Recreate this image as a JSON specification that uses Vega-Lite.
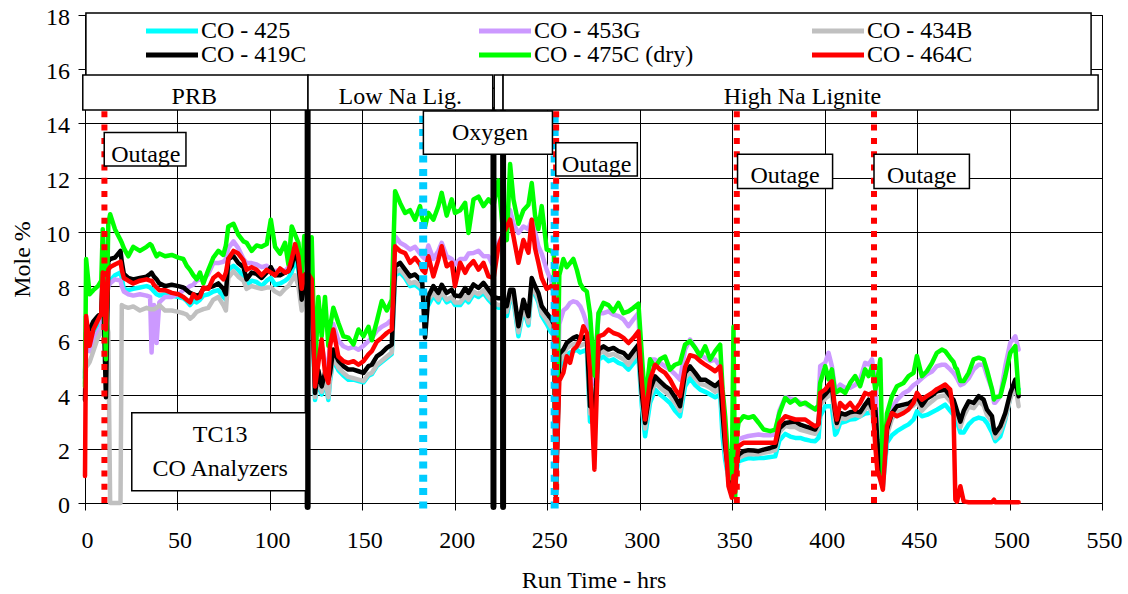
{
"$schema": "https://vega.github.io/schema/vega-lite/v6.json",
"width": 1017, "height": 488,
"autosize": {"type": "none"},
"padding": {"left": 85, "top": 15, "right": 26, "bottom": 91},
"background": "white",
"datasets": {
"co": [
{"t":0,"a":4.6,"b":4.8,"c":4.4,"d":3.8,"e":4.3,"f":1.0},
{"t":0.6,"a":6.4,"b":6.0,"c":5.0,"d":6.3,"e":9.0,"f":6.9},
{"t":2.5,"a":6.0,"b":5.6,"c":5.2,"d":6.4,"e":7.7,"f":5.8},
{"t":4.5,"a":6.3,"b":6.0,"c":5.6,"d":6.7,"e":7.85,"f":6.4},
{"t":7,"a":6.6,"b":6.3,"c":6.1,"d":6.9,"e":8.0,"f":6.75},
{"t":8.8,"a":6.8,"b":6.5,"c":6.3,"d":7.0,"e":8.2,"f":7.0},
{"t":9.6,"a":8.0,"b":7.6,"c":6.5,"d":8.6,"e":10.1,"f":8.5},
{"t":11.3,"a":7.6,"b":7.4,"c":6.8,"d":3.9,"e":5.3,"f":6.4},
{"t":12.6,"a":8.2,"b":8.0,"c":6.3,"d":8.9,"e":10.3,"f":8.6},
{"t":13.6,"a":8.2,"b":8.1,"c":0,"d":9.0,"e":10.65,"f":8.7},
{"t":16.2,"a":8.4,"b":8.25,"c":0,"d":9.05,"e":10.1,"f":8.8},
{"t":19.2,"a":8.5,"b":8.2,"c":0,"d":9.3,"e":9.7,"f":8.9},
{"t":19.9,"a":8.3,"b":8.0,"c":7.3,"d":8.9,"e":9.6,"f":8.6},
{"t":21,"a":7.9,"b":7.8,"c":7.25,"d":8.45,"e":9.4,"f":8.3},
{"t":23.4,"a":7.85,"b":7.7,"c":7.2,"d":8.3,"e":9.1,"f":8.2},
{"t":26.1,"a":7.9,"b":7.65,"c":7.25,"d":8.25,"e":9.45,"f":8.1},
{"t":29.7,"a":7.95,"b":7.7,"c":7.1,"d":8.3,"e":9.3,"f":8.2},
{"t":33.3,"a":8.0,"b":7.65,"c":7.2,"d":8.35,"e":9.45,"f":8.25},
{"t":35.2,"a":7.95,"b":7.6,"c":7.15,"d":8.45,"e":9.55,"f":8.2},
{"t":36,"a":7.9,"b":5.55,"c":7.15,"d":8.5,"e":9.5,"f":8.2},
{"t":37.3,"a":7.8,"b":7.3,"c":7.15,"d":8.35,"e":9.3,"f":8.05},
{"t":38.7,"a":7.7,"b":5.9,"c":7.2,"d":8.25,"e":9.1,"f":7.95},
{"t":40.2,"a":7.65,"b":7.4,"c":7.3,"d":8.1,"e":9.2,"f":7.85},
{"t":43.3,"a":7.7,"b":7.6,"c":7.1,"d":8.0,"e":9.1,"f":7.85},
{"t":46.9,"a":7.65,"b":7.6,"c":7.1,"d":8.05,"e":9.15,"f":7.75},
{"t":50.5,"a":7.6,"b":7.7,"c":7.05,"d":8.0,"e":9.05,"f":7.7},
{"t":53.2,"a":7.55,"b":7.85,"c":7.0,"d":7.95,"e":9.0,"f":7.6},
{"t":55,"a":7.45,"b":7.9,"c":6.95,"d":7.85,"e":8.75,"f":7.5},
{"t":56.8,"a":7.3,"b":8.0,"c":6.8,"d":7.75,"e":8.6,"f":7.4},
{"t":58.6,"a":7.45,"b":8.05,"c":6.9,"d":7.7,"e":8.4,"f":7.7},
{"t":60.4,"a":7.4,"b":8.2,"c":7.05,"d":7.65,"e":8.25,"f":7.55},
{"t":62.2,"a":7.5,"b":8.25,"c":7.1,"d":7.7,"e":8.5,"f":7.6},
{"t":64,"a":7.65,"b":8.25,"c":7.15,"d":7.9,"e":8.1,"f":7.95},
{"t":66.7,"a":7.7,"b":8.45,"c":7.2,"d":7.95,"e":8.6,"f":7.9},
{"t":69.4,"a":7.8,"b":8.85,"c":7.5,"d":8.0,"e":9.05,"f":8.3},
{"t":72.1,"a":7.85,"b":8.85,"c":7.6,"d":8.1,"e":9.3,"f":8.45},
{"t":74.8,"a":7.6,"b":8.9,"c":7.3,"d":7.9,"e":9.15,"f":8.25},
{"t":76.2,"a":7.5,"b":9.0,"c":7.1,"d":7.7,"e":9.5,"f":8.5},
{"t":77.5,"a":8.6,"b":9.4,"c":8.3,"d":9.0,"e":10.2,"f":9.0},
{"t":80.3,"a":8.75,"b":9.65,"c":8.55,"d":9.1,"e":10.3,"f":9.3},
{"t":82.9,"a":8.6,"b":9.4,"c":8.35,"d":8.85,"e":9.9,"f":9.2},
{"t":85.7,"a":8.35,"b":9.0,"c":8.2,"d":8.7,"e":9.65,"f":8.95},
{"t":87.4,"a":8.0,"b":8.85,"c":7.9,"d":8.25,"e":9.6,"f":8.6},
{"t":90.1,"a":8.2,"b":8.85,"c":8.0,"d":8.5,"e":9.3,"f":8.7},
{"t":92.8,"a":8.15,"b":8.8,"c":7.95,"d":8.45,"e":9.5,"f":8.6},
{"t":95.5,"a":8.0,"b":8.7,"c":7.9,"d":8.3,"e":9.45,"f":8.4},
{"t":98.3,"a":8.2,"b":8.75,"c":7.95,"d":8.5,"e":9.55,"f":8.6},
{"t":100.5,"a":8.3,"b":8.6,"c":7.95,"d":8.7,"e":10.45,"f":8.5},
{"t":102.8,"a":8.05,"b":8.55,"c":7.8,"d":8.4,"e":9.45,"f":8.4},
{"t":105.5,"a":8.1,"b":8.6,"c":7.7,"d":8.4,"e":9.2,"f":8.65},
{"t":108.2,"a":8.2,"b":8.55,"c":7.9,"d":8.5,"e":9.6,"f":8.5},
{"t":110,"a":8.3,"b":8.7,"c":8.0,"d":8.55,"e":8.8,"f":8.55},
{"t":111.8,"a":8.5,"b":9.0,"c":8.2,"d":8.75,"e":10.2,"f":9.0},
{"t":113.6,"a":9.0,"b":9.5,"c":8.4,"d":9.3,"e":9.9,"f":9.55},
{"t":115.4,"a":8.6,"b":9.0,"c":8.0,"d":8.85,"e":9.6,"f":9.1},
{"t":117.2,"a":7.3,"b":7.75,"c":7.1,"d":7.5,"e":8.3,"f":7.9},
{"t":118.6,"a":7.8,"b":8.25,"c":7.6,"d":8.0,"e":9.85,"f":8.4},
{"t":120.2,"a":8.0,"b":8.4,"c":7.8,"d":8.2,"e":9.1,"f":8.5},
{"t":122.6,"a":7.8,"b":8.3,"c":7.6,"d":8.0,"e":9.8,"f":8.25},
{"t":124.4,"a":3.8,"b":4.5,"c":3.9,"d":4.06,"e":4.8,"f":4.3},
{"t":126.2,"a":4.6,"b":5.4,"c":4.7,"d":4.9,"e":7.6,"f":5.17},
{"t":128,"a":4.0,"b":5.8,"c":4.1,"d":4.3,"e":6.15,"f":6.03},
{"t":129.8,"a":4.5,"b":5.2,"c":4.6,"d":4.8,"e":7.6,"f":4.8},
{"t":131.6,"a":3.8,"b":4.9,"c":3.9,"d":4.55,"e":5.8,"f":4.43},
{"t":132.5,"a":4.5,"b":6.0,"c":4.6,"d":4.8,"e":6.5,"f":5.78},
{"t":134.3,"a":5.3,"b":6.6,"c":5.4,"d":5.66,"e":7.2,"f":6.4},
{"t":137,"a":4.9,"b":6.0,"c":5.0,"d":5.25,"e":6.65,"f":5.41},
{"t":139.7,"a":4.7,"b":5.78,"c":4.8,"d":5.05,"e":6.15,"f":5.23},
{"t":142.4,"a":4.55,"b":5.7,"c":4.65,"d":4.92,"e":6.1,"f":5.17},
{"t":145.2,"a":4.55,"b":5.75,"c":4.6,"d":4.92,"e":5.85,"f":5.23},
{"t":147.9,"a":4.5,"b":5.65,"c":4.55,"d":4.86,"e":6.4,"f":5.1},
{"t":150.6,"a":4.45,"b":5.8,"c":4.5,"d":4.8,"e":6.15,"f":5.23},
{"t":153.3,"a":4.7,"b":5.97,"c":4.75,"d":5.05,"e":6.5,"f":5.48},
{"t":155.1,"a":4.75,"b":6.1,"c":4.8,"d":5.1,"e":6.0,"f":5.6},
{"t":157.8,"a":5.05,"b":6.35,"c":5.1,"d":5.41,"e":6.7,"f":5.95},
{"t":160.5,"a":5.2,"b":6.5,"c":5.25,"d":5.54,"e":7.45,"f":6.1},
{"t":163.2,"a":5.35,"b":6.6,"c":5.4,"d":5.72,"e":7.1,"f":6.27},
{"t":165.9,"a":5.5,"b":6.77,"c":5.55,"d":5.84,"e":7.5,"f":6.4},
{"t":167.7,"a":8.4,"b":9.84,"c":8.5,"d":8.73,"e":11.5,"f":9.47},
{"t":170.4,"a":8.5,"b":9.6,"c":8.6,"d":8.86,"e":11.07,"f":9.29},
{"t":173.1,"a":8.3,"b":9.5,"c":8.4,"d":8.61,"e":10.7,"f":9.22},
{"t":175.8,"a":8.0,"b":9.35,"c":8.1,"d":8.36,"e":10.8,"f":8.86},
{"t":178.5,"a":8.05,"b":9.45,"c":8.15,"d":8.43,"e":10.45,"f":9.04},
{"t":181.2,"a":7.9,"b":9.2,"c":8.0,"d":8.24,"e":10.95,"f":8.8},
{"t":182.4,"a":7.8,"b":9.1,"c":7.9,"d":8.12,"e":10.5,"f":8.6},
{"t":183.9,"a":7.7,"b":9.0,"c":7.8,"d":6.1,"e":10.2,"f":8.49},
{"t":185.7,"a":7.3,"b":9.5,"c":7.5,"d":7.63,"e":10.7,"f":9.1},
{"t":188.4,"a":7.65,"b":9.0,"c":7.75,"d":8.0,"e":10.45,"f":8.36},
{"t":191.1,"a":7.4,"b":9.3,"c":7.5,"d":7.75,"e":10.95,"f":8.98},
{"t":192.9,"a":7.7,"b":9.6,"c":7.8,"d":8.05,"e":11.44,"f":9.47},
{"t":195.6,"a":7.4,"b":9.1,"c":7.5,"d":7.75,"e":10.6,"f":8.73},
{"t":198.3,"a":7.5,"b":9.0,"c":7.6,"d":7.87,"e":11.2,"f":8.86},
{"t":200.1,"a":7.3,"b":8.8,"c":7.4,"d":7.65,"e":10.7,"f":8.0},
{"t":202.9,"a":7.3,"b":9.0,"c":7.4,"d":7.63,"e":10.8,"f":8.86},
{"t":205.6,"a":7.55,"b":9.0,"c":7.65,"d":7.93,"e":11.07,"f":8.49},
{"t":207.4,"a":7.4,"b":9.2,"c":7.5,"d":7.75,"e":9.96,"f":8.73},
{"t":210.1,"a":7.7,"b":9.22,"c":7.8,"d":8.06,"e":11.2,"f":8.92},
{"t":212.8,"a":7.6,"b":9.3,"c":7.7,"d":7.93,"e":11.3,"f":8.61},
{"t":215.5,"a":7.75,"b":9.1,"c":7.85,"d":8.12,"e":10.95,"f":8.86},
{"t":218.2,"a":7.5,"b":9.1,"c":7.6,"d":7.87,"e":11.2,"f":8.36},
{"t":221,"a":7.3,"b":8.7,"c":7.4,"d":7.6,"e":11.0,"f":8.3},
{"t":223.6,"a":7.2,"b":9.6,"c":7.3,"d":7.55,"e":11.9,"f":9.47},
{"t":226.2,"a":7.2,"b":9.9,"c":7.3,"d":7.55,"e":9.9,"f":9.96},
{"t":228.1,"a":6.9,"b":10.7,"c":7.05,"d":7.26,"e":9.7,"f":10.2},
{"t":229.9,"a":7.5,"b":10.8,"c":7.6,"d":7.87,"e":12.5,"f":10.45},
{"t":231.7,"a":7.5,"b":10.3,"c":7.6,"d":7.87,"e":11.2,"f":9.84},
{"t":234.4,"a":6.15,"b":9.96,"c":6.3,"d":6.52,"e":10.3,"f":8.86},
{"t":237.1,"a":7.15,"b":10.2,"c":7.25,"d":7.5,"e":10.8,"f":9.7},
{"t":239.8,"a":6.55,"b":10.1,"c":6.65,"d":6.89,"e":11.0,"f":9.23},
{"t":241.6,"a":7.9,"b":10.45,"c":8.0,"d":8.3,"e":11.8,"f":10.45},
{"t":243.4,"a":7.7,"b":10.0,"c":7.8,"d":8.0,"e":10.6,"f":9.4},
{"t":245.2,"a":7.4,"b":9.47,"c":7.5,"d":7.75,"e":10.1,"f":8.86},
{"t":247,"a":6.9,"b":9.2,"c":7.0,"d":7.26,"e":10.95,"f":8.3},
{"t":249.7,"a":6.6,"b":8.6,"c":6.75,"d":7.0,"e":9.35,"f":7.9},
{"t":252,"a":6.3,"b":8.2,"c":6.5,"d":6.8,"e":9.3,"f":8.0},
{"t":253.6,"a":6.2,"b":7.8,"c":6.3,"d":6.6,"e":9.2,"f":7.8},
{"t":254.6,"a":0.2,"b":0.3,"c":0.2,"d":0.3,"e":0.4,"f":0.3},
{"t":256.5,"a":5.0,"b":6.6,"c":5.2,"d":5.5,"e":8.4,"f":4.5},
{"t":258.7,"a":5.2,"b":7.1,"c":5.45,"d":5.66,"e":9.0,"f":4.8},
{"t":260.5,"a":5.45,"b":7.2,"c":5.7,"d":5.9,"e":8.7,"f":5.41},
{"t":262.3,"a":5.55,"b":7.38,"c":5.8,"d":6.0,"e":8.85,"f":5.17},
{"t":264.1,"a":5.6,"b":7.44,"c":5.85,"d":6.09,"e":9.0,"f":5.66},
{"t":266,"a":5.65,"b":7.4,"c":5.9,"d":6.15,"e":8.6,"f":5.78},
{"t":267.8,"a":5.55,"b":7.26,"c":5.8,"d":6.03,"e":8.1,"f":6.03},
{"t":269.5,"a":5.6,"b":7.0,"c":5.85,"d":6.1,"e":7.9,"f":6.52},
{"t":271.4,"a":5.65,"b":6.6,"c":5.9,"d":6.15,"e":7.8,"f":6.27},
{"t":273.1,"a":3.0,"b":5.8,"c":3.3,"d":3.57,"e":7.0,"f":4.9},
{"t":275.5,"a":3.2,"b":4.4,"c":3.4,"d":3.5,"e":4.7,"f":1.23},
{"t":277.7,"a":5.29,"b":7.0,"c":5.5,"d":5.66,"e":7.0,"f":6.15},
{"t":280.4,"a":5.4,"b":7.0,"c":5.6,"d":5.78,"e":7.38,"f":6.21},
{"t":283.1,"a":5.23,"b":7.07,"c":5.45,"d":5.66,"e":7.3,"f":6.4},
{"t":285.8,"a":5.3,"b":6.95,"c":5.5,"d":5.72,"e":7.07,"f":6.27},
{"t":288.5,"a":5.17,"b":6.89,"c":5.4,"d":5.6,"e":7.38,"f":6.21},
{"t":291.2,"a":5.1,"b":6.77,"c":5.3,"d":5.54,"e":7.0,"f":6.09},
{"t":293.9,"a":4.92,"b":6.52,"c":5.1,"d":5.35,"e":7.07,"f":5.9},
{"t":296.6,"a":5.15,"b":6.77,"c":5.35,"d":5.6,"e":7.2,"f":6.09},
{"t":299.3,"a":5.4,"b":7.0,"c":5.6,"d":5.84,"e":7.35,"f":6.33},
{"t":301.1,"a":3.6,"b":4.18,"c":3.85,"d":4.06,"e":5.5,"f":4.55},
{"t":302.9,"a":2.46,"b":2.95,"c":2.75,"d":2.95,"e":3.7,"f":3.08},
{"t":305.6,"a":3.7,"b":5.29,"c":3.95,"d":4.18,"e":5.3,"f":4.55},
{"t":308.3,"a":4.18,"b":5.29,"c":4.45,"d":4.67,"e":5.0,"f":5.1},
{"t":311,"a":4.0,"b":5.17,"c":4.25,"d":4.49,"e":5.3,"f":4.92},
{"t":313.7,"a":3.85,"b":5.04,"c":4.1,"d":4.31,"e":5.4,"f":4.8},
{"t":316.4,"a":3.69,"b":4.92,"c":3.95,"d":4.18,"e":4.92,"f":4.55},
{"t":319.1,"a":3.4,"b":4.75,"c":3.7,"d":3.9,"e":5.1,"f":4.2},
{"t":321.8,"a":3.2,"b":4.55,"c":3.4,"d":3.57,"e":5.17,"f":3.94},
{"t":324.5,"a":4.3,"b":5.66,"c":4.6,"d":4.8,"e":5.84,"f":5.0},
{"t":327.2,"a":4.6,"b":6.03,"c":4.85,"d":5.04,"e":5.97,"f":5.45},
{"t":330,"a":4.35,"b":5.72,"c":4.6,"d":4.8,"e":5.72,"f":5.4},
{"t":332.7,"a":4.18,"b":5.47,"c":4.4,"d":4.55,"e":5.41,"f":5.23},
{"t":335.4,"a":4.1,"b":5.35,"c":4.35,"d":4.55,"e":5.78,"f":5.1},
{"t":338.1,"a":4.0,"b":5.23,"c":4.25,"d":4.43,"e":5.29,"f":4.98},
{"t":340.8,"a":3.9,"b":5.29,"c":4.1,"d":4.31,"e":5.6,"f":4.86},
{"t":343.5,"a":4.0,"b":5.04,"c":4.25,"d":4.49,"e":5.84,"f":5.04},
{"t":344.8,"a":2.46,"b":3.8,"c":3.1,"d":3.32,"e":4.2,"f":4.0},
{"t":346.2,"a":1.6,"b":2.5,"c":1.9,"d":2.1,"e":3.2,"f":2.46},
{"t":348,"a":0.9,"b":1.3,"c":1.0,"d":1.11,"e":1.36,"f":0.62},
{"t":349.8,"a":0.3,"b":0.4,"c":0.3,"d":0.37,"e":0.9,"f":0.2},
{"t":350.7,"a":0.4,"b":0.8,"c":0.5,"d":0.5,"e":6.5,"f":1.0},
{"t":351.6,"a":0.6,"b":1.0,"c":0.6,"d":0.7,"e":0.2,"f":0.4},
{"t":352.5,"a":1.2,"b":1.8,"c":1.4,"d":1.5,"e":2.5,"f":1.5},
{"t":353.4,"a":1.54,"b":2.34,"c":1.65,"d":1.78,"e":2.96,"f":2.09},
{"t":356.1,"a":1.6,"b":2.42,"c":1.75,"d":1.91,"e":3.2,"f":2.22},
{"t":358.8,"a":1.66,"b":2.47,"c":1.8,"d":1.95,"e":3.14,"f":2.22},
{"t":361.5,"a":1.64,"b":2.5,"c":1.8,"d":1.94,"e":3.2,"f":2.22},
{"t":364.3,"a":1.66,"b":2.53,"c":1.8,"d":1.91,"e":2.96,"f":2.22},
{"t":367,"a":1.66,"b":2.5,"c":1.85,"d":1.97,"e":2.71,"f":2.22},
{"t":370.6,"a":1.7,"b":2.5,"c":1.9,"d":2.03,"e":2.65,"f":2.22},
{"t":373.3,"a":1.72,"b":2.53,"c":1.95,"d":2.09,"e":2.71,"f":2.22},
{"t":375.5,"a":2.3,"b":3.4,"c":2.6,"d":2.75,"e":3.3,"f":2.95},
{"t":378.7,"a":2.55,"b":3.9,"c":2.85,"d":2.95,"e":3.88,"f":3.2},
{"t":381.4,"a":2.45,"b":3.85,"c":2.8,"d":2.98,"e":3.7,"f":3.14},
{"t":384.1,"a":2.4,"b":3.82,"c":2.8,"d":3.0,"e":3.82,"f":3.08},
{"t":386.8,"a":2.4,"b":3.7,"c":2.7,"d":2.89,"e":3.63,"f":3.08},
{"t":389.5,"a":2.34,"b":3.65,"c":2.65,"d":2.83,"e":3.7,"f":3.08},
{"t":392.2,"a":2.3,"b":3.55,"c":2.6,"d":2.77,"e":3.57,"f":2.95},
{"t":394.9,"a":2.28,"b":3.45,"c":2.55,"d":2.71,"e":3.45,"f":2.83},
{"t":396.7,"a":2.4,"b":3.6,"c":2.75,"d":2.95,"e":3.6,"f":2.9},
{"t":397.6,"a":3.2,"b":5.05,"c":3.6,"d":3.81,"e":4.43,"f":4.06},
{"t":400.3,"a":3.57,"b":5.17,"c":3.85,"d":4.0,"e":5.05,"f":4.18},
{"t":402.1,"a":3.57,"b":5.54,"c":3.95,"d":4.15,"e":4.56,"f":4.35},
{"t":403.9,"a":3.57,"b":5.05,"c":4.05,"d":4.3,"e":4.93,"f":4.49},
{"t":405.7,"a":2.52,"b":4.19,"c":3.0,"d":3.32,"e":4.06,"f":3.44},
{"t":406.6,"a":2.6,"b":4.2,"c":2.8,"d":2.95,"e":4.1,"f":3.08},
{"t":408.4,"a":2.95,"b":4.37,"c":3.15,"d":3.32,"e":4.19,"f":3.69},
{"t":411.1,"a":3.0,"b":4.25,"c":3.1,"d":3.26,"e":4.06,"f":3.5},
{"t":413.8,"a":3.08,"b":4.25,"c":3.2,"d":3.35,"e":4.43,"f":3.69},
{"t":416.5,"a":3.1,"b":4.35,"c":3.25,"d":3.38,"e":4.68,"f":3.44},
{"t":419.2,"a":3.2,"b":4.56,"c":3.2,"d":3.35,"e":4.31,"f":3.69},
{"t":421.9,"a":3.3,"b":5.17,"c":3.45,"d":3.63,"e":4.93,"f":4.06},
{"t":423.8,"a":3.32,"b":5.11,"c":3.6,"d":3.81,"e":4.68,"f":4.0},
{"t":425.6,"a":3.44,"b":5.3,"c":3.3,"d":3.5,"e":5.05,"f":4.06},
{"t":427.4,"a":2.5,"b":4.5,"c":3.3,"d":3.5,"e":4.19,"f":2.09},
{"t":428.5,"a":1.9,"b":2.5,"c":2.2,"d":2.34,"e":4.5,"f":1.2},
{"t":430.1,"a":0.9,"b":1.5,"c":1.0,"d":1.11,"e":5.3,"f":0.86},
{"t":431.5,"a":0.6,"b":0.8,"c":0.7,"d":0.86,"e":0.9,"f":0.49},
{"t":433.7,"a":2.22,"b":3.0,"c":2.5,"d":2.71,"e":3.3,"f":2.83},
{"t":436.4,"a":2.5,"b":3.5,"c":3.1,"d":3.32,"e":3.94,"f":3.32},
{"t":439.1,"a":2.65,"b":3.8,"c":3.35,"d":3.57,"e":4.31,"f":3.2},
{"t":442.7,"a":2.8,"b":4.05,"c":3.45,"d":3.63,"e":4.43,"f":3.32},
{"t":445.4,"a":2.9,"b":4.15,"c":3.5,"d":3.67,"e":4.68,"f":3.45},
{"t":448.1,"a":3.08,"b":4.35,"c":3.6,"d":3.8,"e":4.8,"f":3.7},
{"t":449.9,"a":3.38,"b":4.43,"c":3.75,"d":3.94,"e":5.42,"f":4.06},
{"t":452.6,"a":3.2,"b":4.6,"c":3.4,"d":3.6,"e":4.68,"f":3.81},
{"t":455.3,"a":3.25,"b":4.75,"c":3.6,"d":3.85,"e":4.86,"f":3.94},
{"t":458.1,"a":3.35,"b":4.85,"c":3.75,"d":3.97,"e":5.17,"f":4.06},
{"t":460.7,"a":3.44,"b":5.05,"c":3.9,"d":4.12,"e":5.54,"f":4.2},
{"t":463.4,"a":3.55,"b":5.1,"c":3.95,"d":4.16,"e":5.66,"f":4.3},
{"t":465.2,"a":3.63,"b":5.1,"c":3.97,"d":4.18,"e":5.6,"f":4.37},
{"t":467.9,"a":3.4,"b":4.93,"c":3.75,"d":3.94,"e":5.35,"f":4.18},
{"t":469.7,"a":3.25,"b":4.8,"c":3.6,"d":3.81,"e":5.2,"f":3.32},
{"t":470.7,"a":3.1,"b":4.7,"c":3.5,"d":3.6,"e":5.0,"f":0.12},
{"t":471.6,"a":3.0,"b":4.6,"c":3.3,"d":3.4,"e":4.93,"f":0.05},
{"t":473.4,"a":2.6,"b":4.35,"c":2.8,"d":3.0,"e":4.5,"f":0.62},
{"t":475.2,"a":2.6,"b":4.4,"c":3.2,"d":3.4,"e":4.5,"f":0.06},
{"t":477.9,"a":2.9,"b":4.6,"c":3.55,"d":3.75,"e":4.8,"f":0.03},
{"t":480.6,"a":3.08,"b":4.93,"c":3.5,"d":3.69,"e":5.3,"f":0.03},
{"t":483.3,"a":3.15,"b":5.1,"c":3.75,"d":3.94,"e":5.36,"f":0.03},
{"t":486,"a":3.1,"b":5.1,"c":3.6,"d":3.81,"e":5.3,"f":0.03},
{"t":487.8,"a":2.95,"b":4.7,"c":3.25,"d":3.44,"e":4.9,"f":0.03},
{"t":490.5,"a":2.6,"b":4.2,"c":3.0,"d":3.2,"e":4.2,"f":0.03},
{"t":491.6,"a":2.4,"b":3.7,"c":2.6,"d":2.7,"e":3.82,"f":0.12},
{"t":492.3,"a":2.28,"b":3.7,"c":2.4,"d":2.58,"e":3.9,"f":0.03},
{"t":495,"a":2.46,"b":3.94,"c":2.65,"d":2.83,"e":3.94,"f":0.03},
{"t":497.7,"a":3.08,"b":5.05,"c":3.15,"d":3.32,"e":4.68,"f":0.03},
{"t":500.4,"a":3.9,"b":5.91,"c":3.85,"d":4.06,"e":5.54,"f":0.03},
{"t":503.1,"a":4.3,"b":6.15,"c":4.35,"d":4.55,"e":5.79,"f":0.03},
{"t":504.9,"a":4.2,"b":5.66,"c":3.57,"d":3.94,"e":4.06,"f":0.03}
],
"events": [
{"t":182.9,"kind":"cyan"},{"t":254.0,"kind":"cyan"},
{"t":10.5,"kind":"outage"},{"t":254.8,"kind":"outage"},{"t":352.5,"kind":"outage"},{"t":426.7,"kind":"outage"},
{"t":120.4,"kind":"switch"},{"t":220.9,"kind":"switch"},{"t":226.1,"kind":"switch"}
],
"boxes": [
{"x1":0.5,"x2":544.1,"y1":15.3,"y2":18.07},
{"x1":-1.2,"x2":120.6,"y1":14.5,"y2":15.79},
{"x1":120.6,"x2":220.5,"y1":14.5,"y2":15.79},
{"x1":221.3,"x2":226.1,"y1":14.5,"y2":15.79},
{"x1":226.1,"x2":547.9,"y1":14.5,"y2":15.79},
{"x1":183.0,"x2":252.8,"y1":12.86,"y2":14.46},
{"x1":10.4,"x2":54.6,"y1":12.43,"y2":13.67},
{"x1":254.6,"x2":298.7,"y1":12.06,"y2":13.29},
{"x1":352.9,"x2":404.3,"y1":11.6,"y2":12.86},
{"x1":426.7,"x2":478.3,"y1":11.6,"y2":12.86},
{"x1":25.3,"x2":119.5,"y1":0.45,"y2":3.33}
],
"labels": [
{"x":59.1,"y":14.72,"txt":"PRB"},
{"x":170.5,"y":14.72,"txt":"Low Na Lig."},
{"x":388.0,"y":14.72,"txt":"High Na Lignite"},
{"x":219.0,"y":13.39,"txt":"Oxygen"},
{"x":32.9,"y":12.56,"txt":"Outage"},
{"x":276.7,"y":12.2,"txt":"Outage"},
{"x":378.6,"y":11.81,"txt":"Outage"},
{"x":452.5,"y":11.81,"txt":"Outage"},
{"x":73.1,"y":2.26,"txt":"TC13"},
{"x":73.1,"y":1.0,"txt":"CO Analyzers"}
]
},
"layer": [
{
"data": {"name": "co"},
"transform": [{"fold": ["a","b","c","d","e","f"], "as": ["series","value"]}],
"mark": {"type": "line", "strokeWidth": 4.5, "strokeJoin": "round", "strokeCap": "round"},
"encoding": {
"x": {"field": "t", "type": "quantitative", "scale": {"domain": [0,550], "nice": false, "zero": false},
 "axis": {"title": "Run Time - hrs", "values": [0,50,100,150,200,250,300,350,400,450,500,550], "labelPadding": 18, "titlePadding": 16, "labelOffset": 2, "labelFlush": false}},
"y": {"field": "value", "type": "quantitative", "scale": {"domain": [0,18], "nice": false},
 "axis": {"title": "Mole %", "values": [0,2,4,6,8,10,12,14,16,18], "labelPadding": 8.5, "titlePadding": 11.5, "labelOffset": 2.5, "labelFlush": false}},
"color": {"field": "series", "type": "nominal",
 "scale": {"domain": ["a","b","c","d","e","f"], "range": ["#00FFFF","#CC99FF","#C0C0C0","#000000","#00FF00","#FF0000"]},
 "legend": {"title": null, "orient": "none", "direction": "horizontal", "legendX": 49, "legendY": 4, "columns": 3, "gridAlign": "all", "columnPadding": 106, "rowPadding": 0,
  "symbolType": "M0,0H10.4", "symbolSize": 100, "symbolStrokeWidth": 5, "labelFont": "Liberation Serif", "labelFontSize": 24, "labelColor": "black",
  "labelLimit": 500, "labelOffset": 43, "padding": 0,
  "labelExpr": "datum.label == 'a' ? 'CO - 425' : datum.label == 'b' ? 'CO - 453G' : datum.label == 'c' ? 'CO - 434B' : datum.label == 'd' ? 'CO - 419C' : datum.label == 'e' ? 'CO - 475C (dry)' : 'CO - 464C'"}}
}
},
{
"data": {"name": "events"},
"transform": [{"filter": "datum.kind == 'cyan'"}],
"mark": {"type": "rule", "color": "#00CCFF", "strokeWidth": 8, "strokeDash": [7, 6.3]},
"encoding": {"x": {"field": "t", "type": "quantitative"}, "y": {"datum": -0.2}, "y2": {"datum": 14.5}}
},
{
"data": {"name": "events"},
"transform": [{"filter": "datum.kind == 'outage'"}],
"mark": {"type": "rule", "color": "#FF0000", "strokeWidth": 6, "strokeDash": [6, 7.3]},
"encoding": {"x": {"field": "t", "type": "quantitative"}, "y": {"datum": 0}, "y2": {"datum": 14.5}}
},
{
"data": {"name": "events"},
"transform": [{"filter": "datum.kind == 'switch'"}],
"mark": {"type": "rule", "color": "#000000", "strokeWidth": 6, "strokeCap": "round"},
"encoding": {"x": {"field": "t", "type": "quantitative"}, "y": {"datum": -0.15}, "y2": {"datum": 14.5}}
},
{
"data": {"name": "boxes"},
"mark": {"type": "rect", "fill": "white", "stroke": "black", "strokeWidth": 1.5},
"encoding": {"x": {"field": "x1", "type": "quantitative"}, "x2": {"field": "x2"}, "y": {"field": "y1", "type": "quantitative"}, "y2": {"field": "y2"}}
},
{
"data": {"name": "labels"},
"mark": {"type": "text", "font": "Liberation Serif", "fontSize": 24, "align": "center", "baseline": "alphabetic", "color": "black"},
"encoding": {"x": {"field": "x", "type": "quantitative"}, "y": {"field": "y", "type": "quantitative"}, "text": {"field": "txt"}}
}
],
"config": {
"font": "Liberation Serif",
"view": {"stroke": "#000000", "strokeWidth": 1},
"axis": {"labelFont": "Liberation Serif", "labelFontSize": 24, "labelColor": "#000000", "titleFont": "Liberation Serif", "titleFontSize": 24,
 "titleFontWeight": "normal", "titleColor": "#000000", "domainColor": "#000000", "tickColor": "#000000", "gridColor": "#000000", "gridOpacity": 1,
 "tickSize": 7, "domainWidth": 1, "gridWidth": 1, "grid": true}
}
}
